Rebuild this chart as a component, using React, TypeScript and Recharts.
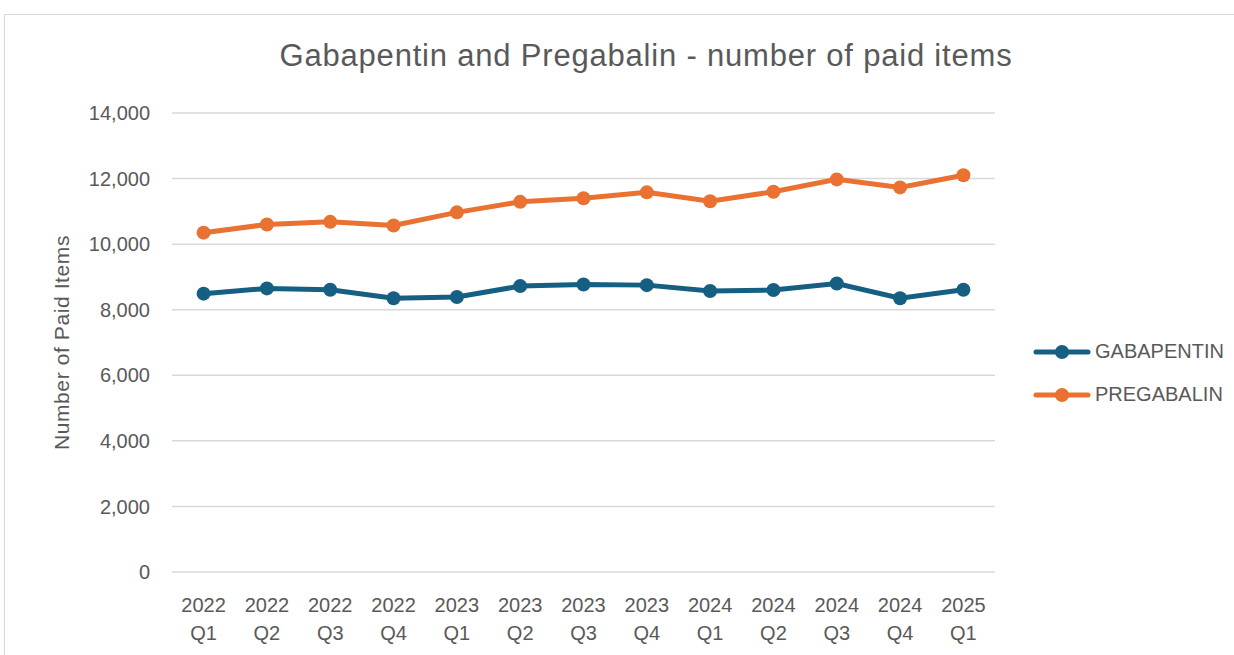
import { LineChart, Line, XAxis, YAxis, CartesianGrid } from "recharts";

const quarters = [
  "2022 Q1", "2022 Q2", "2022 Q3", "2022 Q4",
  "2023 Q1", "2023 Q2", "2023 Q3", "2023 Q4",
  "2024 Q1", "2024 Q2", "2024 Q3", "2024 Q4",
  "2025 Q1",
];

const gabapentin = [8490, 8650, 8610, 8350, 8390, 8720, 8770, 8750, 8570, 8600, 8800, 8350, 8610];
const pregabalin = [10350, 10600, 10680, 10570, 10970, 11290, 11400, 11580, 11310, 11600, 11975, 11730, 12100];

const yTicks = [0, 2000, 4000, 6000, 8000, 10000, 12000, 14000];

const data = quarters.map((q, i) => ({
  quarter: q,
  gabapentin: gabapentin[i],
  pregabalin: pregabalin[i],
}));

const BLUE = "#156082";
const ORANGE = "#E97132";
const TEXT = "#595959";
const FONT = "'Liberation Sans', Arial, sans-serif";

const QuarterTick = (props: any) => {
  const { x, y, payload } = props;
  const [year, q] = String(payload.value).split(" ");
  return (
    <g>
      <text x={x} y={y + 32} textAnchor="middle" fill={TEXT} fontSize={20} fontFamily={FONT}>
        {year}
      </text>
      <text x={x} y={y + 60} textAnchor="middle" fill={TEXT} fontSize={20} fontFamily={FONT}>
        {q}
      </text>
    </g>
  );
};

const legendItems = [
  { label: "GABAPENTIN", color: BLUE },
  { label: "PREGABALIN", color: ORANGE },
];

export default function App() {
  return (
    <div style={{ position: "absolute", left: 0, top: 0, width: 1234, height: 655, background: "#fff" }}>
      <div
        style={{
          position: "absolute",
          left: 4,
          top: 14,
          width: 1240,
          height: 650,
          border: "1px solid #d9d9d9",
          boxSizing: "border-box",
        }}
      />
      <div
        style={{
          position: "absolute",
          left: 0,
          top: 38,
          width: 1292,
          textAlign: "center",
          color: TEXT,
          fontSize: 31,
          letterSpacing: 0.8,
          fontFamily: FONT,
        }}
      >
        Gabapentin and Pregabalin - number of paid items
      </div>
      <div style={{ position: "absolute", left: 1033, top: 330 }}>
        {legendItems.map((item) => (
          <div key={item.label} style={{ display: "flex", alignItems: "center", height: 43 }}>
            <svg width={58} height={16} style={{ marginRight: 4 }}>
              <line x1={3} y1={8} x2={55} y2={8} stroke={item.color} strokeWidth={5} strokeLinecap="round" />
              <circle cx={29} cy={8} r={7} fill={item.color} />
            </svg>
            <span style={{ color: TEXT, fontSize: 20, fontFamily: FONT }}>{item.label}</span>
          </div>
        ))}
      </div>
      <div style={{ position: "absolute", left: 0, top: 0 }}>
        <LineChart
          width={1234}
          height={655}
          data={data}
          margin={{ top: 113, right: 239, bottom: 0, left: 72 }}
        >
          <CartesianGrid vertical={false} stroke="#d9d9d9" strokeWidth={1.5} />
          <XAxis
            dataKey="quarter"
            height={83}
            axisLine={false}
            tickLine={false}
            interval={0}
            padding={{ left: 31.6, right: 31.6 }}
            tick={<QuarterTick />}
          />
          <YAxis
            width={100}
            domain={[0, 14000]}
            ticks={yTicks}
            axisLine={false}
            tickLine={false}
            tickMargin={16}
            tickFormatter={(v: number) => v.toLocaleString("en-US")}
            tick={{ fill: TEXT, fontSize: 20, fontFamily: FONT }}
            label={{
              value: "Number of Paid Items",
              angle: -90,
              position: "insideLeft",
              offset: -10,
              style: { fill: TEXT, fontSize: 21, letterSpacing: 0.6, fontFamily: FONT, textAnchor: "middle" },
            }}
          />
          <Line
            type="linear"
            dataKey="gabapentin"
            name="GABAPENTIN"
            stroke={BLUE}
            strokeWidth={5}
            dot={{ r: 7, fill: BLUE, stroke: BLUE, strokeWidth: 0 }}
            isAnimationActive={false}
          />
          <Line
            type="linear"
            dataKey="pregabalin"
            name="PREGABALIN"
            stroke={ORANGE}
            strokeWidth={5}
            dot={{ r: 7, fill: ORANGE, stroke: ORANGE, strokeWidth: 0 }}
            isAnimationActive={false}
          />
        </LineChart>
      </div>
    </div>
  );
}
